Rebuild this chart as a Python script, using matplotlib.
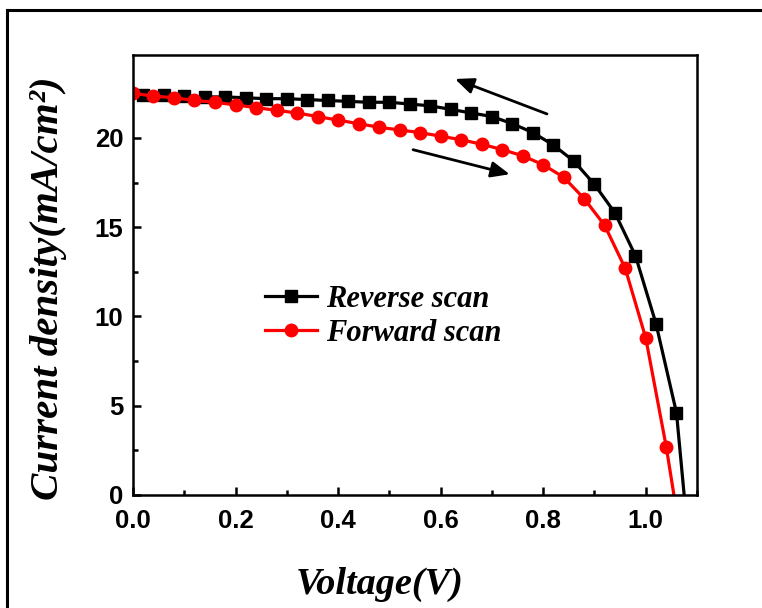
import matplotlib
matplotlib.use("Agg")
import matplotlib.pyplot as plt
from matplotlib.lines import Line2D
from matplotlib.ticker import MultipleLocator

# reverse scan (black squares)
v_rev = [0.02, 0.06, 0.10, 0.14, 0.18, 0.22, 0.26, 0.30, 0.34, 0.38,
         0.42, 0.46, 0.50, 0.54, 0.58, 0.62, 0.66, 0.70, 0.74, 0.78,
         0.82, 0.86, 0.90, 0.94, 0.98, 1.02, 1.06, 1.10]
j_rev = [22.4, 22.4, 22.35, 22.3, 22.3, 22.25, 22.2, 22.2, 22.15, 22.1,
         22.05, 22.0, 22.0, 21.9, 21.8, 21.6, 21.4, 21.2, 20.8, 20.3,
         19.6, 18.7, 17.4, 15.8, 13.4, 9.6, 4.6, -7.7]

# forward scan (red circles)
v_fwd = [0.00, 0.04, 0.08, 0.12, 0.16, 0.20, 0.24, 0.28, 0.32, 0.36,
         0.40, 0.44, 0.48, 0.52, 0.56, 0.60, 0.64, 0.68, 0.72, 0.76,
         0.80, 0.84, 0.88, 0.92, 0.96, 1.00, 1.04, 1.08]
j_fwd = [22.5, 22.35, 22.25, 22.1, 22.0, 21.85, 21.7, 21.55, 21.4, 21.2,
         21.0, 20.8, 20.6, 20.45, 20.3, 20.1, 19.9, 19.65, 19.35, 19.0,
         18.5, 17.8, 16.6, 15.1, 12.7, 8.8, 2.7, -4.5]

serif = "Liberation Serif"
sans = "Liberation Sans"

fig = plt.figure(figsize=(7.62, 6.08), dpi=100)
ax = fig.add_axes([0.1745, 0.1859, 0.7402, 0.7237])

ax.plot(v_rev, j_rev, color="black", lw=2.3, marker="s", ms=8.5,
        label="Reverse scan")
ax.plot(v_fwd, j_fwd, color="#ff0000", lw=2.3, marker="o", ms=9,
        label="Forward scan")

ax.set_xlim(0, 1.10)
ax.set_ylim(0, 24.65)
ax.xaxis.set_major_locator(MultipleLocator(0.2))
ax.xaxis.set_minor_locator(MultipleLocator(0.1))
ax.yaxis.set_major_locator(MultipleLocator(5))
ax.yaxis.set_minor_locator(MultipleLocator(2.5))
ax.tick_params(which="major", direction="in", length=6, width=1.8, pad=7)
ax.tick_params(which="minor", direction="in", length=3.5, width=1.8)
ax.tick_params(axis="x", which="major", pad=10)
ax.set_xticks([0, 0.2, 0.4, 0.6, 0.8, 1.0])
ax.set_xticklabels(["0.0", "0.2", "0.4", "0.6", "0.8", "1.0"])
for lab in ax.get_xticklabels() + ax.get_yticklabels():
    lab.set_fontfamily(sans)
    lab.set_fontweight("bold")
    lab.set_fontsize(18.5)
for s in ax.spines.values():
    s.set_linewidth(1.8)

ax.set_xlabel("Voltage(V)", fontfamily=serif, fontweight="bold",
              fontstyle="italic", fontsize=27.5)
ax.set_ylabel("Current density(mA/cm²)", fontfamily=serif,
              fontweight="bold", fontstyle="italic", fontsize=29.5)
ax.xaxis.set_label_coords(0.438, -0.164)
ax.yaxis.set_label_coords(-0.117, 0.47)

# scan direction arrows
ax.annotate("", xy=(0.623, 23.36), xytext=(0.8125, 21.29),
            arrowprops=dict(arrowstyle="-|>,head_length=0.7,head_width=0.3",
                            color="black", lw=2, mutation_scale=16))
ax.annotate("", xy=(0.740, 17.93), xytext=(0.541, 19.38),
            arrowprops=dict(arrowstyle="-|>,head_length=0.7,head_width=0.3",
                            color="black", lw=2, mutation_scale=16))

ax.legend(loc="upper left", bbox_to_anchor=(0.234, 0.477), frameon=False,
          prop=dict(family=serif, weight="bold", style="italic", size=22),
          handlelength=1.7, handletextpad=0.3, labelspacing=0.15,
          borderpad=0, borderaxespad=0)

# outer frame
fig.add_artist(Line2D([0.009, 0.009], [0.0, 0.984], color="black", lw=2.2,
                      transform=fig.transFigure))
fig.add_artist(Line2D([0.009, 1.0], [0.984, 0.984], color="black", lw=2.2,
                      transform=fig.transFigure))

fig.savefig("out.png", dpi=100)
